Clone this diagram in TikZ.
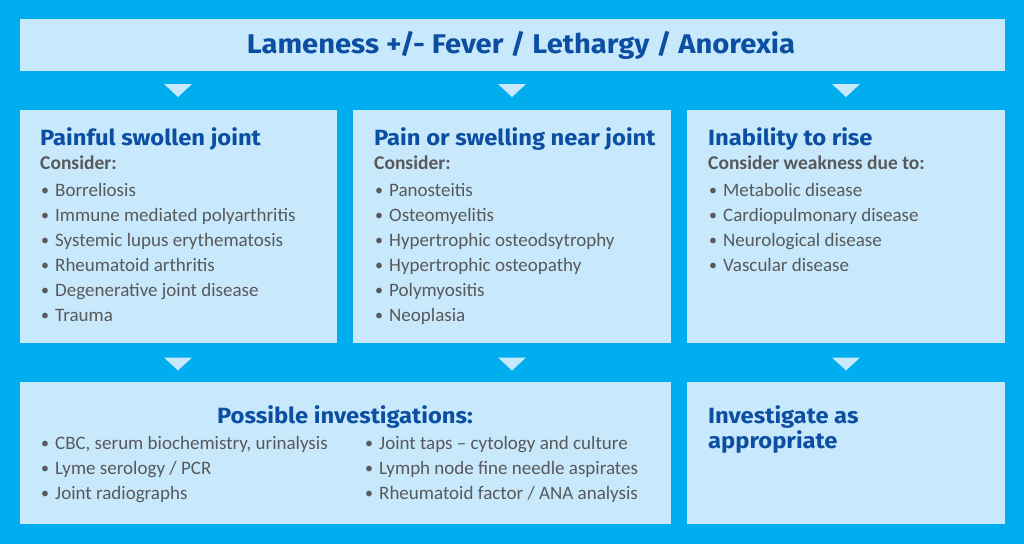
\documentclass[tikz,border=0pt]{standalone}
\usepackage{fontspec}
\setmainfont{Carlito}
\newfontfamily\headfont[FakeStretch=1.08]{Fira Sans}
\newfontfamily\bodyfont{Carlito}
\definecolor{bgcyan}{HTML}{00AEEF}
\definecolor{boxfill}{HTML}{C8E9FB}
\definecolor{headblue}{HTML}{0B4EA2}
\definecolor{bodygray}{HTML}{58595B}
\tikzset{
  panel/.style={fill=boxfill, draw=none, anchor=north west, inner sep=0pt},
  title/.style={anchor=base, inner sep=0pt, text=headblue, font=\headfont\bfseries\fontsize{27}{27}\selectfont},
  heading/.style={anchor=base west, inner sep=0pt, text=headblue, font=\headfont\bfseries\fontsize{22}{22}\selectfont},
  consider/.style={anchor=base west, inner sep=0pt, text=bodygray, font=\bodyfont\bfseries\fontsize{19.5}{19.5}\selectfont},
  item/.style={anchor=base west, inner sep=0pt, text=bodygray, font=\bodyfont\fontsize{19}{19}\selectfont},
  dot/.style={anchor=base west, inner sep=0pt, text=bodygray, font=\bodyfont\fontsize{16}{16}\selectfont},
  tri/.style={fill=boxfill}
}
\newcommand{\bulletitem}[4]{%
  \node[dot] (#1d) at (#2,#3-1) {\textbullet};
  \node[item] (#1) at (#2+14,#3) {#4};
}
\begin{document}
\begin{tikzpicture}[x=1pt,y=-1pt]
\fill[bgcyan] (0,0) rectangle (1024,544);
\useasboundingbox (0,0) rectangle (1024,544);

% boxes
\node[panel, minimum width=985pt, minimum height=52pt] (top) at (20,19) {};
\node[panel, minimum width=317pt, minimum height=233pt] (left) at (20,110) {};
\node[panel, minimum width=318pt, minimum height=233pt] (mid) at (353,110) {};
\node[panel, minimum width=318pt, minimum height=233pt] (right) at (687,110) {};
\node[panel, minimum width=651pt, minimum height=142pt] (inv) at (20,382) {};
\node[panel, minimum width=318pt, minimum height=142pt] (app) at (687,382) {};

% arrows
\foreach \n/\x/\y in {a1/178/90.5, a2/512/90.5, a3/846/90.5, a4/178/364, a5/512/364, a6/846/364}{
  \coordinate (\n) at (\x,\y);
  \fill[tri] (\n) ++(-14,-6.5) -- ++(28,0) -- ++(-14,13) -- cycle;
}

% title
\node[title] (ttl) at (521,53) {Lameness +/- Fever / Lethargy / Anorexia};

% left column
\node[heading] (h1) at (40,145) {Painful swollen joint};
\node[consider] (c1) at (40,169) {Consider:};
\bulletitem{l1}{41}{196}{Borreliosis}
\bulletitem{l2}{41}{221}{Immune mediated polyarthritis}
\bulletitem{l3}{41}{246}{Systemic lupus erythematosis}
\bulletitem{l4}{41}{271}{Rheumatoid arthritis}
\bulletitem{l5}{41}{296.5}{Degenerative joint disease}
\bulletitem{l6}{41}{321.5}{Trauma}

% middle column
\node[heading] (h2) at (374,145) {Pain or swelling near joint};
\node[consider] (c2) at (374,169) {Consider:};
\bulletitem{m1}{375}{196}{Panosteitis}
\bulletitem{m2}{375}{221}{Osteomyelitis}
\bulletitem{m3}{375}{246}{Hypertrophic osteodsytrophy}
\bulletitem{m4}{375}{271}{Hypertrophic osteopathy}
\bulletitem{m5}{375}{296.5}{Polymyositis}
\bulletitem{m6}{375}{321.5}{Neoplasia}

% right column
\node[heading] (h3) at (708,145) {Inability to rise};
\node[consider] (c3) at (708,169) {Consider weakness due to:};
\bulletitem{r1}{709}{196}{Metabolic disease}
\bulletitem{r2}{709}{221}{Cardiopulmonary disease}
\bulletitem{r3}{709}{246}{Neurological disease}
\bulletitem{r4}{709}{271}{Vascular disease}

% investigations
\node[heading, anchor=base] (h4) at (345,423) {Possible investigations:};
\bulletitem{i1}{41}{449}{CBC, serum biochemistry, urinalysis}
\bulletitem{i2}{41}{474}{Lyme serology / PCR}
\bulletitem{i3}{41}{499}{Joint radiographs}
\bulletitem{i4}{365}{449}{Joint taps – cytology and culture}
\bulletitem{i5}{365}{474}{Lymph node fine needle aspirates}
\bulletitem{i6}{365}{499}{Rheumatoid factor / ANA analysis}

% investigate as appropriate
\node[heading] (h5) at (708,423) {Investigate as};
\node[heading] (h6) at (708,448) {appropriate};
\end{tikzpicture}
\end{document}
